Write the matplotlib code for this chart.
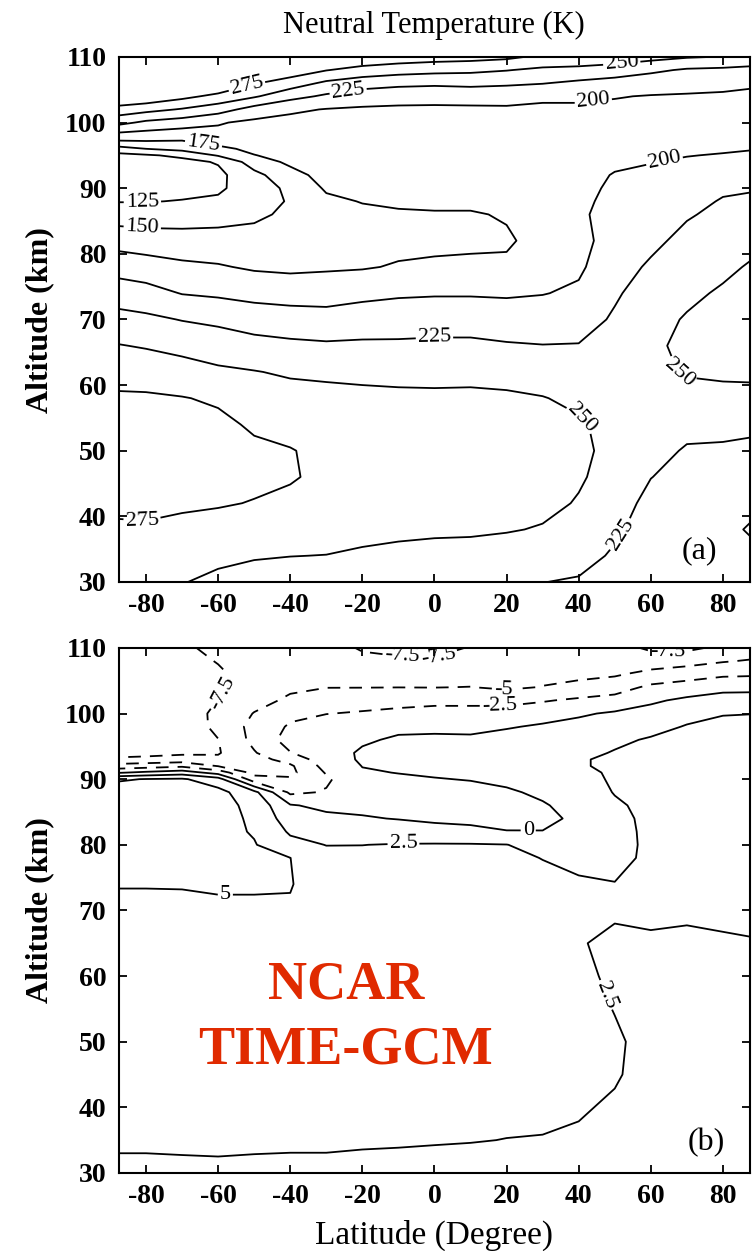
# Neutral temperature and its change from the NCAR TIME-GCM, two panels
import numpy as np
import matplotlib.pyplot as plt

plt.rcParams['font.family'] = 'Liberation Serif'
plt.rcParams['axes.unicode_minus'] = False

# 1. Data
lats = [-87.5, -80, -70, -60, -50, -40, -30, -20, -10, 0,
        10, 20, 30, 40, 50, 60, 70, 80, 87.5]

# (a) temperature (K), one altitude profile per latitude
alt_a = [30, 34, 38, 42, 46, 50, 54, 58, 62, 66, 70, 74, 78, 82, 86, 88,
         90, 92, 94, 95, 96, 97, 98, 100, 102, 104, 106, 108, 110]
temp_cols = [
    [266, 270, 273, 278, 283, 285, 283, 278, 267, 251, 233, 213, 190, 165, 138, 124, 115, 111, 115, 118, 140, 170, 190, 232, 265, 300, 330, 360, 390],  # -87.5
    [265, 270, 273, 279, 284, 286, 284, 278, 265, 248, 230, 209, 186, 162, 137, 124, 116, 112, 116, 122, 150, 172, 188, 220, 258, 295, 325, 355, 385],  # -80
    [251, 262, 270, 278, 283, 285, 282, 276, 260, 243, 224, 199, 180, 160, 138, 126, 118, 114, 118, 130, 158, 172, 184, 213, 248, 282, 315, 345, 375],  # -70
    [245, 255, 266, 277, 282, 284, 280, 272, 254, 238, 220, 196, 177, 160, 140, 129, 121, 119, 127, 152, 168, 183, 193, 202, 236, 268, 300, 330, 360],  # -60
    [240, 252, 262, 274, 280, 279, 272, 262, 251, 233, 214, 192, 172, 160, 145, 140, 138, 143, 162, 174, 182, 187, 191, 195, 215, 253, 277, 305, 335],  # -50
    [235, 250.5, 262, 270, 277, 276, 268, 259, 247, 230, 211, 190, 170, 160, 155, 152, 155, 166, 180, 185, 188, 190, 191, 193, 204, 233, 263, 290, 320],  # -40
    [232, 249.5, 262, 268, 270, 270, 266, 258, 245, 228, 210, 189, 172, 167, 167, 170, 178, 184, 187, 188, 189, 190, 190, 192, 199, 221, 245, 276, 305],  # -30
    [231, 246, 258, 265, 267, 267, 264, 256, 244, 229, 212, 194, 173, 166, 170, 176, 182, 186, 188, 189, 190, 190, 191, 193, 197, 212, 236, 266, 295],  # -20
    [230, 243, 256, 264, 266, 266, 263, 255, 243, 229, 213, 197, 177, 168, 172, 179, 184, 187, 189, 190, 190, 191, 191, 193, 197, 207, 232, 260, 290],  # -10
    [229, 242, 254, 263, 265, 265, 262, 255, 242, 230, 214, 198, 179, 169, 173, 180, 185, 188, 190, 190, 191, 191, 192, 194, 197, 206, 230, 257, 286],  # 0
    [228, 240, 254, 262, 264, 264, 261, 255, 243, 230, 214, 198, 180, 170, 173, 180, 185, 188, 190, 191, 191, 192, 192, 194, 197, 207, 232, 255, 284],  # 10
    [227, 236, 252, 260, 263, 263, 261, 254, 241, 227, 213, 197, 179, 172, 177, 183, 187, 189, 190, 191, 191, 192, 192, 194, 197, 208, 229, 251, 280],  # 20
    [225.5, 235, 248, 257, 261, 262, 259, 251, 238, 225.5, 214, 199, 188, 183, 185, 187, 189, 190, 191, 191, 192, 192, 193, 194, 196, 204, 226, 245, 270],  # 30
    [222, 236, 244, 248, 253, 256, 253, 245, 236, 226, 215, 204, 196, 192, 197, 196, 195, 194, 194, 194, 194, 194, 194, 195, 197, 203, 220, 244, 265],  # 40
    [213, 221, 230, 236, 240, 242, 242, 240, 237, 233, 228, 222, 216, 211, 207, 205, 203, 201, 197, 195, 194, 193, 193, 194, 196, 201, 214, 240, 262],  # 50
    [205, 208, 212, 218, 225.5, 232, 237, 241, 244, 245, 242, 236, 228, 220, 213, 209, 206, 203, 199.5, 197, 195, 194, 193, 193, 195, 199, 210, 230, 258],  # 60
    [205, 206, 208, 212, 217, 223, 231, 242, 252, 256, 252, 245, 238, 231, 223, 217, 212, 207, 202, 199.5, 198, 196, 195, 194, 195, 198, 208, 222, 252],  # 70
    [206, 205, 203, 205, 212, 221, 233, 243, 254, 262, 261, 253, 245, 237, 230, 227, 221, 213, 205, 201, 198, 196, 195, 194, 194, 197, 206, 220, 249],  # 80
    [207, 203, 199, 203, 210, 219, 231, 244, 254, 262, 265, 261, 252, 243, 234, 229, 223, 215, 207, 203, 199, 197, 196, 194, 194, 196, 203, 219, 240],  # 87.5
]
temp_levels = [125, 150, 175, 200, 225, 250, 275]

# (b) change field, one altitude profile per latitude
alt_b = [30, 35, 40, 45, 50, 55, 60, 65, 70, 74, 78, 80, 82, 84, 86, 88,
         90, 91, 92, 93, 94, 96, 98, 100, 102, 104, 106, 108, 110]
diff_cols = [
    [2.2, 2.7, 3.0, 3.3, 3.6, 3.9, 4.2, 4.5, 4.75, 5.05, 5.6, 6.0, 6.3, 6.5, 6.6, 6.4, 4.7, -0.2, -4.0, -7.0, -8.5, -9.2, -9.4, -9.5, -9.5, -9.4, -9.3, -9.2, -9.0],  # -87.5
    [2.2, 2.7, 3.0, 3.3, 3.6, 3.9, 4.2, 4.5, 4.75, 5.05, 5.5, 5.9, 6.2, 6.4, 6.5, 6.3, 5.1, 0.5, -3.6, -6.8, -8.3, -9.0, -9.2, -9.3, -9.3, -9.2, -9.1, -9.0, -8.9],  # -80
    [2.2, 2.75, 3.05, 3.35, 3.65, 3.95, 4.25, 4.55, 4.8, 5.05, 5.45, 5.8, 6.1, 6.3, 6.4, 6.2, 5.3, 1.3, -3.0, -6.5, -7.9, -8.6, -8.8, -8.9, -8.9, -8.8, -8.6, -8.2, -7.7],  # -70
    [2.2, 2.8, 3.1, 3.4, 3.7, 4.0, 4.3, 4.6, 4.85, 5.1, 5.4, 5.6, 5.8, 5.9, 5.9, 5.8, 3.5, -1.0, -5.1, -7.0, -7.7, -7.55, -7.0, -6.9, -7.45, -7.9, -7.8, -7.4, -7.2],  # -60
    [2.1, 2.8, 3.1, 3.4, 3.7, 4.0, 4.3, 4.6, 4.85, 5.1, 5.3, 5.15, 4.8, 4.6, 4.3, 3.2, -4.0, -5.8, -6.3, -6.0, -5.2, -4.3, -4.2, -4.9, -5.8, -6.3, -6.7, -7.0, -7.3],  # -50
    [2.1, 2.75, 3.0, 3.3, 3.6, 3.9, 4.2, 4.5, 4.8, 5.1, 5.02, 3.2, 2.2, 1.2, 0.2, -3.0, -4.7, -5.6, -5.4, -4.0, -2.6, -1.5, -2.2, -3.1, -4.6, -5.4, -6.0, -6.5, -6.9],  # -40
    [2.1, 2.75, 3.0, 3.3, 3.55, 3.8, 4.0, 4.2, 4.3, 4.0, 3.2, 2.45, 1.6, 0.6, -0.6, -2.3, -2.9, -2.3, -1.6, -1.2, -1.0, -1.0, -1.5, -2.55, -3.8, -5.05, -5.8, -6.3, -6.7],  # -30
    [2.0, 2.7, 3.0, 3.25, 3.5, 3.7, 3.85, 3.9, 3.8, 3.5, 2.95, 2.48, 1.5, 0.2, -0.6, -0.8, -0.5, -0.2, 0.05, 0.3, 0.3, -0.3, -1.3, -2.3, -3.4, -5.05, -6.2, -7.0, -7.7],  # -20
    [2.0, 2.65, 2.95, 3.2, 3.45, 3.65, 3.8, 3.85, 3.75, 3.5, 3.0, 2.6, 1.3, -0.1, -0.6, -0.7, -0.3, 0.05, 0.4, 0.6, 0.7, 0.3, -0.5, -2.0, -3.2, -5.02, -6.1, -7.2, -8.0],  # -10
    [1.95, 2.6, 2.9, 3.15, 3.4, 3.6, 3.75, 3.8, 3.7, 3.45, 3.0, 2.65, 1.0, -0.5, -0.8, -0.8, -0.1, 0.3, 0.6, 0.8, 0.9, 0.5, -0.6, -1.8, -3.0, -5.05, -6.2, -7.3, -8.0],  # 0
    [1.95, 2.55, 2.85, 3.1, 3.35, 3.55, 3.7, 3.75, 3.65, 3.45, 3.0, 2.65, 0.7, -0.7, -0.9, -0.7, 0.1, 0.5, 0.8, 1.0, 1.0, 0.4, -0.6, -1.8, -3.0, -4.95, -6.0, -6.8, -7.4],  # 10
    [1.9, 2.48, 2.8, 3.05, 3.3, 3.5, 3.65, 3.7, 3.6, 3.4, 2.95, 2.55, 0.1, -0.9, -0.8, -0.3, 0.5, 0.8, 1.1, 1.2, 1.3, 0.9, -0.2, -1.5, -3.2, -5.4, -6.0, -6.6, -7.1],  # 20
    [1.85, 2.45, 2.75, 3.0, 3.2, 3.4, 3.55, 3.6, 3.45, 3.1, 2.45, 1.6, 0.05, -0.5, -0.2, 0.4, 0.9, 1.1, 1.3, 1.4, 1.5, 1.2, 0.3, -1.0, -2.7, -4.9, -5.8, -6.4, -6.9],  # 30
    [1.8, 2.3, 2.65, 2.85, 3.0, 3.05, 2.75, 2.55, 2.65, 2.6, 2.3, 1.6, 0.5, 0.4, 0.8, 1.3, 1.7, 1.9, 2.35, 2.4, 2.1, 1.6, 0.7, -0.3, -2.1, -4.3, -5.6, -6.2, -6.7],  # 40
    [1.6, 1.9, 2.3, 2.65, 2.7, 2.45, 2.3, 2.35, 2.6, 2.55, 2.0, 1.8, 1.8, 1.9, 2.2, 2.6, 2.8, 2.85, 2.8, 2.7, 2.6, 2.2, 1.2, 0.3, -1.6, -3.6, -5.3, -6.1, -6.6],  # 50
    [1.5, 1.65, 1.8, 1.95, 2.05, 2.15, 2.25, 2.4, 2.65, 2.8, 2.85, 2.9, 2.95, 3.0, 3.05, 3.1, 3.1, 3.1, 3.05, 3.0, 2.9, 2.65, 2.0, 0.9, -0.4, -2.0, -4.3, -6.3, -7.9],  # 60
    [1.5, 1.6, 1.75, 1.9, 2.0, 2.1, 2.2, 2.38, 2.6, 2.75, 2.85, 2.9, 2.95, 3.0, 3.05, 3.1, 3.1, 3.1, 3.1, 3.05, 3.0, 2.85, 2.6, 2.0, 0.5, -1.5, -3.5, -6.0, -8.0],  # 70
    [1.5, 1.6, 1.7, 1.85, 1.95, 2.05, 2.2, 2.42, 2.65, 2.8, 2.9, 2.95, 3.0, 3.05, 3.1, 3.1, 3.1, 3.1, 3.1, 3.1, 3.05, 2.95, 2.75, 2.45, 1.3, -0.9, -2.9, -5.2, -7.0],  # 80
    [1.5, 1.6, 1.7, 1.85, 1.95, 2.05, 2.2, 2.45, 2.7, 2.85, 2.95, 3.0, 3.05, 3.1, 3.1, 3.1, 3.1, 3.1, 3.1, 3.1, 3.05, 2.95, 2.8, 2.48, 1.3, -0.8, -2.8, -4.8, -6.6],  # 87.5
]
diff_levels = [-7.5, -5, -2.5, 0, 2.5, 5]

# where the contour labels sit (lat, alt)
temp_label_spots = {
    125: [(-81, 88)], 150: [(-81, 84.3)], 175: [(-64, 97)],
    200: [(44, 103.5), (64, 93.5)],
    225: [(-24, 105), (0, 67.2), (51, 37.5)],
    250: [(52, 108.7), (68, 62), (41, 55)],
    275: [(-52, 105.5), (-81, 40)],
}
diff_label_spots = {
    -7.5: [(-58.5, 103), (-9, 108.7), (1, 108.8), (64.6, 109.4)],
    -5: [(19, 103.5)], -2.5: [(18, 101)], 0: [(26, 82)],
    2.5: [(-8.6, 80.5), (47, 57)], 5: [(-58, 72.4)],
}

T = np.array(temp_cols).T
D = np.array(diff_cols).T

# 2. Figure
fig = plt.figure(figsize=(7.52, 12.51), dpi=100)
ax1 = fig.add_axes([0.1582, 0.5348, 0.8391, 0.4197])
ax2 = fig.add_axes([0.1582, 0.0624, 0.8391, 0.4197])

# one contour set per level, so each level gets its own labels
for lev in temp_levels:
    cs = ax1.contour(lats, alt_a, T, levels=[lev], colors='k', linewidths=1.3)
    cs.clabel(manual=temp_label_spots.get(lev, []), inline=True, fmt='%g',
              fontsize=16, inline_spacing=2)

for lev in diff_levels:
    ls = (0, (7, 5)) if lev < 0 else 'solid'
    cs = ax2.contour(lats, alt_b, D, levels=[lev], colors='k',
                     linewidths=1.3, linestyles=[ls])
    cs.clabel(manual=diff_label_spots.get(lev, []), inline=True, fmt='%g',
              fontsize=16, inline_spacing=2)

for ax in (ax1, ax2):
    ax.set_xlim(-87.5, 87.5)
    ax.set_ylim(30, 110)
    ax.set_xticks(range(-80, 81, 20))
    ax.set_yticks(range(30, 111, 10))
    ax.tick_params(direction='in', length=6, width=1.3, top=True, right=True,
                   labelsize=20)
    ax.tick_params(axis='x', pad=8)
    ax.tick_params(axis='y', pad=9)
    for lab in ax.get_xticklabels() + ax.get_yticklabels():
        lab.set_fontweight('bold')
    for sp in ax.spines.values():
        sp.set_linewidth(1.5)

ax1.text(73.4, 34.7, '(a)', fontsize=23, ha='center', va='center')
ax2.text(75.4, 34.6, '(b)', fontsize=23, ha='center', va='center')

red = '#e02a00'
ax2.text(-24.6, 58.6, 'NCAR', color=red, fontsize=39, fontweight='bold',
         ha='center', va='center')
ax2.text(-24.6, 48.7, 'TIME-GCM', color=red, fontsize=39, fontweight='bold',
         ha='center', va='center')

fig.text(0.577, 1 - 25 / 1251, 'Neutral Temperature (K)', fontsize=22,
         ha='center', va='center')
fig.text(40 / 752, 1 - 320 / 1251, 'Altitude (km)', fontsize=23,
         fontweight='bold', rotation=90, ha='center', va='center')
fig.text(40 / 752, 1 - 910 / 1251, 'Altitude (km)', fontsize=23,
         fontweight='bold', rotation=90, ha='center', va='center')
fig.text(0.577, 1 - 1235 / 1251, 'Latitude (Degree)', fontsize=24,
         ha='center', va='center')

fig.savefig('out.png', dpi=100)
